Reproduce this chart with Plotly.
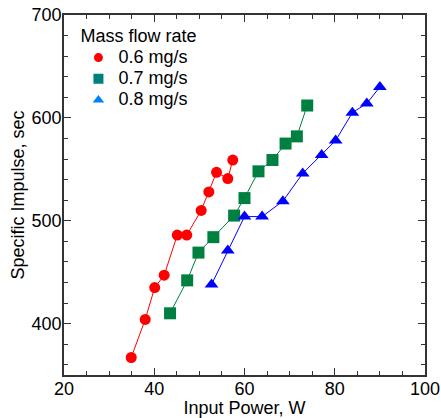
import plotly.graph_objects as go

# Data
power_06 = [34.9, 38.0, 40.1, 42.2, 45.1, 47.2, 50.4, 52.1, 53.8, 56.3, 57.4]
isp_06 = [367, 404, 435, 447, 486, 486, 510, 528, 547, 541, 559]

power_07 = [43.5, 47.3, 49.8, 53.1, 57.7, 60.0, 63.1, 66.2, 69.1, 71.6, 73.9]
isp_07 = [410, 442, 469, 484, 505, 522, 548, 559, 575, 582, 612]

power_08 = [52.7, 56.3, 60.0, 63.9, 68.5, 72.9, 77.1, 80.2, 83.9, 87.1, 90.0]
isp_08 = [438, 471, 504, 504, 519, 546, 564, 578, 605, 614, 630]

labels = ["0.6 mg/s", "0.7 mg/s", "0.8 mg/s"]

font = "Liberation Sans, Arial, sans-serif"
FS = 18

fig = go.Figure()

series = [
    (power_06, isp_06, "#FF0000", "circle", 11, "#FF0000"),
    (power_07, isp_07, "#008040", "square", 12, "#007F7F"),
    (power_08, isp_08, "#0000FF", "triangle-up", 12, "#0080FF"),
]

for (x, y, col, sym, sz, lcol), lab in zip(series, labels):
    fig.add_trace(go.Scatter(
        x=x, y=y, mode="lines+markers", showlegend=False,
        line=dict(color=col, width=1),
        marker=dict(color=col, symbol=sym, size=sz, line=dict(width=0)),
    ))
    fig.add_trace(go.Scatter(
        x=[None], y=[None], mode="markers",
        name='<span style="font-size:18px">' + lab + '</span>',
        marker=dict(color=lcol, symbol=sym, size=sz - 2, line=dict(width=0)),
    ))

axis_common = dict(
    showline=True, linecolor="#333333", linewidth=1.5, mirror="ticks",
    ticks="inside", ticklen=7, tickwidth=1, tickcolor="#333333",
    showgrid=False, zeroline=False, automargin=False,
    tickfont=dict(family=font, size=FS, color="black"),
)

fig.update_xaxes(
    range=[20, 100], tick0=20, dtick=20, ticklabelstandoff=-3,
    minor=dict(ticks="inside", ticklen=4, dtick=5, tickcolor="#333333", showgrid=False),
    title=dict(text="Input Power, W", font=dict(family=font, size=FS, color="black"), standoff=0),
    **axis_common,
)
fig.update_yaxes(
    range=[350, 700], tick0=400, dtick=100, ticklabelstandoff=-3,
    minor=dict(ticks="inside", ticklen=4, dtick=20, tickcolor="#333333", showgrid=False),
    title=dict(text="Specific Impulse, sec", font=dict(family=font, size=FS, color="black"), standoff=2),
    **axis_common,
)

fig.update_layout(
    width=441, height=418,
    margin=dict(l=64, r=16, t=15, b=43),
    plot_bgcolor="white", paper_bgcolor="white",
    font=dict(family=font, size=FS, color="black"),
    legend=dict(
        title=dict(text="Mass flow rate", font=dict(family=font, size=FS)),
        x=0.04, y=0.99, xanchor="left", yanchor="top",
        bgcolor="rgba(0,0,0,0)", itemsizing="trace", tracegroupgap=0,
        font=dict(family=font, size=14),
    ),
)

fig.write_html("out.html")
